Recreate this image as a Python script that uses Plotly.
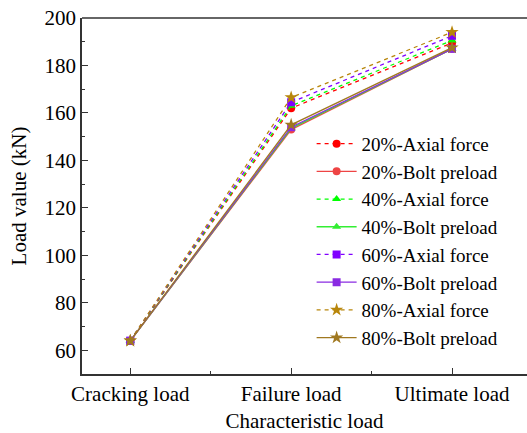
import plotly.graph_objects as go

categories = ["Cracking load", "Failure load", "Ultimate load"]
x_pos = [0, 1, 2]

axial_20 = [64, 162, 189.5]
bolt_20 = [64, 153, 187]
axial_40 = [64, 163, 190.5]
bolt_40 = [64, 153.5, 187]
axial_60 = [64, 164.5, 192.5]
bolt_60 = [64, 154, 187]
axial_80 = [64, 166.5, 194]
bolt_80 = [64, 155, 187.5]

series = [
    ("20%-Axial force", axial_20, "#FF0000", "4px,4px", "circle"),
    ("20%-Bolt preload", bolt_20, "#EE4444", "solid", "circle"),
    ("40%-Axial force", axial_40, "#00FF00", "4px,4px", "triangle-up"),
    ("40%-Bolt preload", bolt_40, "#33EE33", "solid", "triangle-up"),
    ("60%-Axial force", axial_60, "#8000FF", "4px,4px", "square"),
    ("60%-Bolt preload", bolt_60, "#8A2BE2", "solid", "square"),
    ("80%-Axial force", axial_80, "#B8860B", "4px,4px", "star"),
    ("80%-Bolt preload", bolt_80, "#A07820", "solid", "star"),
]

fig = go.Figure()
for name, vals, color, dash, sym in series:
    fig.add_trace(go.Scatter(
        x=x_pos, y=vals, name=name, mode="lines+markers",
        line=dict(color=color, dash=dash, width=1.3),
        marker=dict(symbol=sym, size=8 if sym != "star" else 10, color=color),
    ))

font = "Liberation Serif, Times New Roman, serif"
fig.update_layout(
    width=527, height=433,
    margin=dict(l=82, r=0, t=18, b=59),
    paper_bgcolor="white", plot_bgcolor="white",
    font=dict(family=font, size=21, color="black"),
    legend=dict(x=0.516, y=0.70, xanchor="left", yanchor="top",
                bgcolor="rgba(0,0,0,0)", font=dict(size=19),
                tracegroupgap=0, itemwidth=40),
    shapes=[dict(type="line", xref="paper", yref="paper", x0=0, x1=1, y0=1, y1=1,
                 line=dict(color="#333", width=1.5))],
)
fig.update_xaxes(
    range=[-0.3, 2.466], tickmode="array", tickvals=x_pos, ticktext=categories,
    showline=True, linecolor="#333", linewidth=1.5, ticks="inside", ticklen=6,
    tickcolor="#333", showgrid=False, zeroline=False,
    tickfont=dict(size=21),
    minor=dict(tickmode="array", tickvals=[0.5, 1.5], ticks="inside", ticklen=3, tickcolor="#333"),
    title=dict(text="Characteristic load", font=dict(size=21), standoff=12),
)
fig.update_yaxes(
    range=[50, 200], tick0=0, dtick=20,
    showline=True, linecolor="#333", linewidth=1.5, ticks="inside", ticklen=6,
    tickcolor="#333", showgrid=False, zeroline=False,
    tickfont=dict(size=21),
    minor=dict(dtick=10, ticks="inside", ticklen=3, tickcolor="#333", showgrid=False),
    title=dict(text="Load value (kN)", font=dict(size=21), standoff=12),
)

fig.write_html("out.html")
